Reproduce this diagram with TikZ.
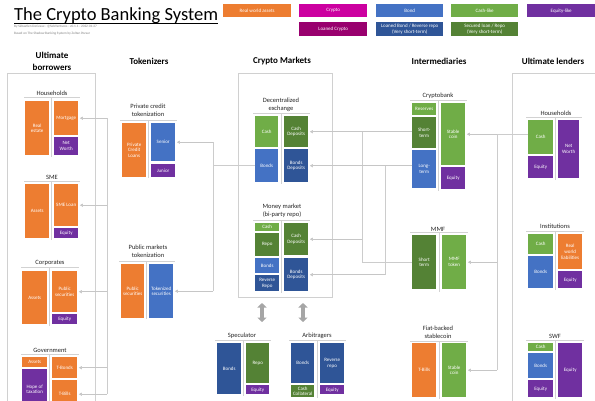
\documentclass[tikz,border=0pt]{standalone}
\usepackage{fontspec}
\setmainfont{Carlito}
\usepackage{tikz}
\usetikzlibrary{arrows.meta,calc}
\definecolor{rwa}{HTML}{ED7D31}
\definecolor{crypto}{HTML}{CC00A0}
\definecolor{lcrypto}{HTML}{99006E}
\definecolor{bond}{HTML}{4472C4}
\definecolor{lbond}{HTML}{2F5597}
\definecolor{cash}{HTML}{70AD47}
\definecolor{lcash}{HTML}{548235}
\definecolor{equity}{HTML}{7030A0}
\definecolor{frame}{HTML}{D0D0D0}
% one box of a balance sheet: name, x, y (top left), width, height, colour, text
\newcommand{\bx}[7]{\node[bx,fill=#6,minimum width=#4pt,minimum height=#5pt] (#1) at (#2,#3) {#7};}
% T-account lines: left, right, top, middle, bottom
\newcommand{\tacct}[5]{\draw[tline] (#1,#3) -- (#2,#3); \draw[tline] (#4,#3) -- (#4,#5);}

\begin{document}
\begin{tikzpicture}[x=1pt,y=-1pt,
  >={Triangle[length=3pt,width=3.2pt]},
  bx/.style={anchor=north west,inner xsep=0pt,inner ysep=0.5pt,text=white,align=center,
    font=\fontsize{5}{5.8}\selectfont},
  lbl/.style={font=\fontsize{6.5}{7.6}\selectfont,align=center,text=black!85},
  head/.style={font=\bfseries\fontsize{9}{12}\selectfont,align=center},
  tline/.style={draw=gray!35,line width=0.6pt},
  colframe/.style={draw=frame,line width=0.5pt},
  link/.style={draw=gray!40,line width=0.5pt},
  flow/.style={link,->,shorten >=1.5pt,color=gray!45},
  updown/.style={draw=gray!70,line width=3.5pt,{Triangle[length=4.5pt,width=9pt]}-{Triangle[length=4.5pt,width=9pt]}}]
  \useasboundingbox[fill=white] (0,0) rectangle (595,400);

  % title
  \node[anchor=base west,inner sep=0pt,font=\fontsize{18.5}{20}\selectfont] (title) at (14,20) {The Crypto Banking System};
  \draw[line width=0.7pt] ([yshift=-3pt]title.base west) -- ([yshift=-3pt]title.base east);
  \node[anchor=base west,inner sep=0pt,text=gray,font=\fontsize{3.4}{4}\selectfont] (byline) at (14,27) {By Sébastien Derivaux - @SebVentures - v0.1.1 - 2022-01-27};
  \node[anchor=base west,inner sep=0pt,text=gray,font=\fontsize{3.4}{4}\selectfont] (basedon) at (14,34) {Based on The Shadow Banking System by Zoltan Pozsar};

  % legend
  \bx{lgRWA}{223}{4}{68}{13}{rwa}{Real world assets}
  \bx{lgCrypto}{299}{4}{68}{13}{crypto}{Crypto}
  \bx{lgBond}{376}{4}{67}{13}{bond}{Bond}
  \bx{lgCash}{451}{4}{67}{13}{cash}{Cash-like}
  \bx{lgEquity}{527}{4}{68}{13}{equity}{Equity-like}
  \bx{lgLCrypto}{299}{22}{68}{14}{lcrypto}{Loaned Crypto}
  \bx{lgLBond}{376}{22}{67}{14}{lbond}{Loaned Bond / Reverse repo\\(Very short-term)}
  \bx{lgLCash}{451}{22}{67}{14}{lcash}{Secured loan / Repo\\(Very short-term)}

  % column titles
  \node[head] (hBorrowers) at (52,61) {Ultimate\\borrowers};
  \node[head] (hTokenizers) at (149,61) {Tokenizers};
  \node[head] (hMarkets) at (282,61) {Crypto Markets};
  \node[head] (hInter) at (439,61) {Intermediaries};
  \node[head] (hLenders) at (553,61) {Ultimate lenders};

  % column frames
  \draw[colframe] (7,73) rectangle (95,412);
  \draw[colframe] (238,73) rectangle (332,297);
  \draw[colframe] (512,73) rectangle (600,412);

  % ultimate borrowers
  \node[lbl] (lHH) at (52,93) {Households};
  \tacct{24}{80}{97}{51.5}{157}
  \bx{hhRE}{25}{101}{24}{54}{rwa}{Real\\estate}
  \bx{hhMort}{54}{101}{24}{34}{rwa}{Mortgage}
  \bx{hhNW}{54}{137}{24}{18}{equity}{Net\\Worth}
  \node[lbl] (lSME) at (52,177) {SME};
  \tacct{24}{80}{181}{51.5}{240}
  \bx{smeAssets}{25}{184}{24}{54}{rwa}{Assets}
  \bx{smeLoan}{54}{184}{24}{42}{rwa}{SME Loan}
  \bx{smeEq}{54}{228}{24}{10}{equity}{Equity}
  \node[lbl] (lCorp) at (50,263) {Corporates};
  \tacct{21}{79}{267}{49.5}{326}
  \bx{corpAssets}{22}{271}{25}{53}{rwa}{Assets}
  \bx{corpSec}{52}{271}{25}{41}{rwa}{Public\\securities}
  \bx{corpEq}{52}{314}{25}{10}{equity}{Equity}
  \node[lbl] (lGov) at (50,350) {Government};
  \tacct{21}{79}{354}{49.5}{405}
  \bx{govAssets}{22}{357}{25}{10}{rwa}{Assets}
  \bx{govHope}{22}{369}{25}{40}{equity}{Hope of\\taxation}
  \bx{govTBonds}{52}{357}{25}{21}{rwa}{T-Bonds}
  \bx{govTBills}{52}{380}{25}{28}{rwa}{T-Bills}

  % tokenizers
  \node[lbl] (lPC) at (148,110.5) {Private credit\\tokenization};
  \tacct{120}{177}{120}{148.5}{178}
  \bx{pcLoans}{122}{123}{24}{54}{rwa}{Private\\Credit\\Loans}
  \bx{pcSenior}{151}{123}{24}{38}{bond}{Senior}
  \bx{pcJunior}{151}{164}{24}{13}{equity}{Junior}
  \node[lbl] (lPM) at (148,251.5) {Public markets\\tokenization};
  \tacct{119}{175}{261}{146.5}{319}
  \bx{pmSec}{121}{264}{23}{54}{rwa}{Public\\securities}
  \bx{pmTok}{149}{264}{24}{54}{bond}{Tokenized\\securities}

  % crypto markets
  \node[lbl] (lDEX) at (281,104.5) {Decentralized\\exchange};
  \tacct{253}{310}{113}{281}{184}
  \bx{dexCash}{255}{116}{23}{31}{cash}{Cash}
  \bx{dexCashDep}{284}{116}{24}{31}{lcash}{Cash\\Deposits}
  \bx{dexBonds}{255}{149}{23}{33}{bond}{Bonds}
  \bx{dexBondDep}{284}{149}{24}{33}{lbond}{Bonds\\Deposits}
  \node[lbl] (lMM) at (282,210.5) {Money market\\(bi-party repo)};
  \tacct{253}{310}{220}{281.5}{293}
  \bx{mmCash}{255}{223}{24}{8}{cash}{Cash}
  \bx{mmRepo}{255}{233}{24}{23}{lcash}{Repo}
  \bx{mmBonds}{255}{258}{24}{15}{bond}{Bonds}
  \bx{mmRev}{255}{275}{24}{16}{lbond}{Reverse\\Repo}
  \bx{mmCashDep}{284}{223}{24}{32}{lcash}{Cash\\Deposits}
  \bx{mmBondDep}{284}{258}{24}{33}{lbond}{Bonds\\Deposits}

  % speculator and arbitragers
  \coordinate (upL) at (262,303);
  \coordinate (downL) at (262,322);
  \coordinate (upR) at (303,303);
  \coordinate (downR) at (303,322);
  \draw[updown] (upL) -- (downL);
  \draw[updown] (upR) -- (downR);
  \node[lbl] (lSpec) at (242,336) {Speculator};
  \tacct{215}{271}{340}{243.5}{396}
  \bx{spBonds}{217}{343}{24}{51}{lbond}{Bonds}
  \bx{spRepo}{246}{343}{23}{40}{lcash}{Repo}
  \bx{spEq}{246}{385}{23}{9}{equity}{Equity}
  \node[lbl] (lArb) at (317,336) {Arbitragers};
  \tacct{289}{346}{340}{317}{398}
  \bx{arBonds}{291}{343}{23}{40}{lbond}{Bonds}
  \bx{arCash}{291}{385}{23}{12}{lcash}{Cash\\Collateral}
  \bx{arRev}{320}{343}{24}{40}{lbond}{Reverse\\repo}
  \bx{arEq}{320}{385}{24}{9}{equity}{Equity}

  % intermediaries
  \node[lbl] (lCB) at (438,96) {Cryptobank};
  \tacct{410}{467}{100}{438.5}{191}
  \bx{cbRes}{412}{103}{24}{12}{cash}{Reserves}
  \bx{cbShort}{412}{117}{24}{31}{lcash}{Short-\\term}
  \bx{cbLong}{412}{150}{24}{38}{bond}{Long-\\term}
  \bx{cbStable}{441}{103}{24}{62}{cash}{Stable\\coin}
  \bx{cbEq}{441}{167}{24}{22}{equity}{Equity}
  \node[lbl] (lMMF) at (438,229) {MMF};
  \tacct{410}{468}{232}{439}{292}
  \bx{mmfShort}{412}{235}{24}{54}{lcash}{Short\\term}
  \bx{mmfTok}{442}{235}{24}{54}{cash}{MMF\\token}
  \node[lbl] (lFB) at (438,332.5) {Fiat-backed\\stablecoin};
  \tacct{410}{468}{341}{439}{399}
  \bx{fbTBills}{412}{343}{24}{54}{rwa}{T-Bills}
  \bx{fbStable}{442}{343}{24}{54}{cash}{Stable\\coin}

  % ultimate lenders
  \node[lbl] (lLH) at (556,113) {Households};
  \tacct{526}{582}{117}{555.5}{180}
  \bx{lhCash}{528}{120}{25}{34}{cash}{Cash}
  \bx{lhEq}{528}{156}{25}{22}{equity}{Equity}
  \bx{lhNW}{558}{120}{21}{58}{equity}{Net\\Worth}
  \node[lbl] (lInst) at (555,226) {Institutions};
  \tacct{526}{584}{231}{555.5}{290}
  \bx{inCash}{528}{234}{25}{20}{cash}{Cash}
  \bx{inBonds}{528}{256}{25}{32}{bond}{Bonds}
  \bx{inRWL}{558}{234}{24}{35}{rwa}{Real\\world\\liabilities}
  \bx{inEq}{558}{271}{24}{17}{equity}{Equity}
  \node[lbl] (lSWF) at (555,336) {SWF};
  \tacct{526}{584}{340}{555.5}{399}
  \bx{swCash}{528}{343}{25}{8}{cash}{Cash}
  \bx{swBonds}{528}{353}{25}{25}{bond}{Bonds}
  \bx{swEq}{528}{380}{25}{17}{equity}{Equity}
  \bx{swNW}{558}{343}{24}{54}{equity}{Equity}

  % borrowers' securities
  \coordinate (bTrunk) at (107,0);
  \draw[link] (hhMort.east -| bTrunk) -- (govTBills.east -| bTrunk);
  \foreach \n in {hhMort,smeLoan,corpSec,govTBonds,govTBills}
    \draw[flow] (\n.east -| bTrunk) -- (\n.east);
  % tokenized claims
  \coordinate (tTrunk) at (213,0);
  \draw[link] (pcSenior.east -| tTrunk) -- (pmTok.east -| tTrunk);
  \draw[link] (dexBonds.west) -- (dexBonds.west -| tTrunk);
  \foreach \n in {pcSenior,pmTok}
    \draw[flow] (\n.east -| tTrunk) -- (\n.east);
  % deposits in the markets
  \coordinate (sTrunk) at (362,0);
  \coordinate (lTrunk) at (385,0);
  \draw[link] (dexCashDep.east -| sTrunk) -- (mmfShort.west -| sTrunk) -- (mmfShort.west);
  \draw[flow] (dexCashDep.east -| cbShort.west) -- (dexCashDep.east);
  \draw[flow] (mmCashDep.east -| sTrunk) -- (mmCashDep.east);
  \draw[link] (dexBondDep.east -| lTrunk) -- (mmBondDep.east -| lTrunk);
  \draw[flow] (dexBondDep.east -| cbLong.west) -- (dexBondDep.east);
  \draw[flow] (mmBondDep.east -| lTrunk) -- (mmBondDep.east);
  % lenders' cash
  \coordinate (rTrunk) at (497,0);
  \draw[link] (cbStable.east -| lhCash.west) -- (cbStable.east -| rTrunk) -- (fbStable.east -| rTrunk);
  \foreach \n in {cbStable,mmfTok,fbStable}
    \draw[flow] (\n.east -| rTrunk) -- (\n.east);
\end{tikzpicture}
\end{document}
